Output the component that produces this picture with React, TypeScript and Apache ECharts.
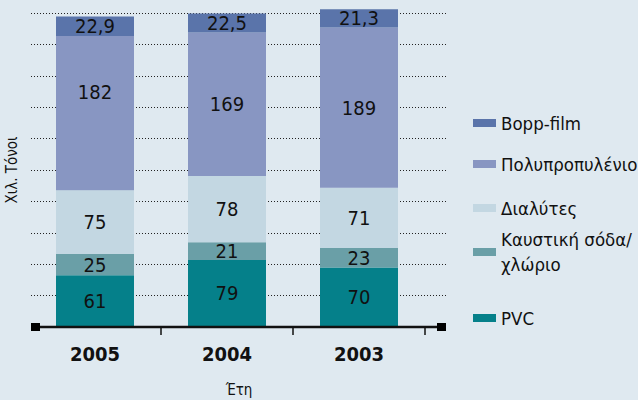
import React, { useEffect, useRef } from "react";
import * as echarts from "echarts";

const categories = ["2005", "2004", "2003"];
const pvc = [61, 79, 70];
const caustic = [25, 21, 23];
const solvents = [75, 78, 71];
const polypropylene = [182, 169, 189];
const boppFilm = [22.9, 22.5, 21.3];

const seriesNames = ["PVC", "Καυστική σόδα/ χλώριο", "Διαλύτες", "Πολυπροπυλένιο", "Bopp-film"];
const seriesColors = ["#05808a", "#6a9fa7", "#c3d7e2", "#8896c2", "#5a74aa"];
const yAxisTitle = "Χιλ. Τόνοι";
const xAxisTitle = "Έτη";

const FONT = "'Liberation Sans Narrow', 'Arial Narrow', 'DejaVu Sans Condensed', sans-serif";
const BG = "#dfe9f0";

const GRID_LEFT = 29;
const GRID_W = 396;
const GRID_TOP = 13;
const GRID_H = 314;
const AXIS_Y = GRID_TOP + GRID_H;
const Y_MAX = 370;
const Y_INT = 37;

export default function App() {
  const ref = useRef<HTMLDivElement>(null);
  useEffect(() => {
    if (!ref.current) return;
    const chart = echarts.init(ref.current, null, { renderer: "svg" });
    const values = [pvc, caustic, solvents, polypropylene, boppFilm];
    const labelStyle = {
      show: true,
      position: "inside",
      color: "#111",
      fontFamily: FONT,
      fontSize: 20,
      formatter: (p: any) => String(p.value).replace(".", ","),
    };
    const series = values.map((arr, si) => ({
      type: "bar",
      name: seriesNames[si],
      stack: "total",
      xAxisIndex: 0,
      yAxisIndex: 0,
      barWidth: 78,
      clip: false,
      itemStyle: { color: seriesColors[si] },
      label: labelStyle,
      data: arr.map((v, i) =>
        si === 3 && i === 0 ? { value: v, label: { offset: [0, -21] } } : v
      ),
    }));

    const legendCenters: Record<string, number> = {
      "Bopp-film": 123,
      "Πολυπροπυλένιο": 164,
      "Διαλύτες": 208,
      "Καυστική σόδα/ χλώριο": 252,
      PVC: 318,
    };
    const legends = Object.keys(legendCenters).map((name) => {
      const multi = name.indexOf("/") >= 0;
      const LH = multi ? 25 : 22;
      return {
        data: [name],
        orient: "vertical",
        left: 473,
        top: legendCenters[name] - (multi ? 1.5 * LH : LH / 2),
        padding: 0,
        itemWidth: 23,
        itemHeight: 8,
        icon: "rect",
        selectedMode: false,
        formatter: (n: string) => n.replace("/ ", "/\n"),
        textStyle: {
          fontFamily: FONT,
          fontSize: 18.5,
          color: "#111",
          lineHeight: LH,
          padding: multi ? [LH, 0, 0, 0] : 0,
        },
      };
    });

    const band = GRID_W / categories.length;
    const tickLines = categories.map((_, i) => ({
      type: "line",
      shape: {
        x1: GRID_LEFT + band * (i + 1),
        y1: AXIS_Y,
        x2: GRID_LEFT + band * (i + 1),
        y2: AXIS_Y + 8,
      },
      style: { stroke: "#111", lineWidth: 1.5 },
      z: 100,
    }));

    chart.setOption({
      animation: false,
      backgroundColor: BG,
      grid: [
        { left: GRID_LEFT, top: GRID_TOP, width: GRID_W, height: GRID_H },
        { left: 31, top: GRID_TOP, width: 416, height: GRID_H },
      ],
      xAxis: [
        {
          type: "category",
          gridIndex: 0,
          data: categories,
          axisLine: { show: false },
          axisTick: { show: false },
          axisLabel: {
            margin: 17,
            fontFamily: FONT,
            fontSize: 20,
            fontWeight: "bold",
            color: "#111",
          },
        },
        { type: "value", gridIndex: 1, show: false, min: 0, max: 1 },
      ],
      yAxis: [
        {
          type: "value",
          gridIndex: 0,
          min: 0,
          max: Y_MAX,
          interval: Y_INT,
          show: false,
          splitLine: { show: false },
        },
        {
          type: "value",
          gridIndex: 1,
          min: 0,
          max: Y_MAX,
          interval: Y_INT,
          axisLine: { show: false },
          axisTick: { show: false },
          axisLabel: { show: false },
          splitLine: {
            show: true,
            lineStyle: { color: "#222", width: 1, type: [1, 2] },
          },
        },
      ],
      legend: legends,
      series,
      graphic: [
        {
          type: "line",
          shape: { x1: 31, y1: AXIS_Y, x2: 446, y2: AXIS_Y },
          style: { stroke: "#111", lineWidth: 2.5 },
          z: 100,
        },
        {
          type: "rect",
          shape: { x: 31, y: AXIS_Y - 4, width: 9, height: 8 },
          style: { fill: "#000" },
          z: 101,
        },
        {
          type: "rect",
          shape: { x: 437, y: AXIS_Y - 4, width: 9, height: 8 },
          style: { fill: "#000" },
          z: 101,
        },
        ...tickLines,
        {
          type: "text",
          x: 12,
          y: 170,
          rotation: Math.PI / 2,
          style: {
            text: yAxisTitle,
            fontFamily: FONT,
            fontSize: 15,
            fill: "#111",
            align: "center",
            verticalAlign: "middle",
          },
        },
        {
          type: "text",
          x: 239,
          y: 390,
          style: {
            text: xAxisTitle,
            fontFamily: FONT,
            fontSize: 15,
            fill: "#111",
            align: "center",
            verticalAlign: "middle",
          },
        },
      ],
    });
    return () => chart.dispose();
  }, []);
  return (
    <div
      ref={ref}
      style={{ position: "fixed", left: 0, top: 0, width: 638, height: 400 }}
    />
  );
}
